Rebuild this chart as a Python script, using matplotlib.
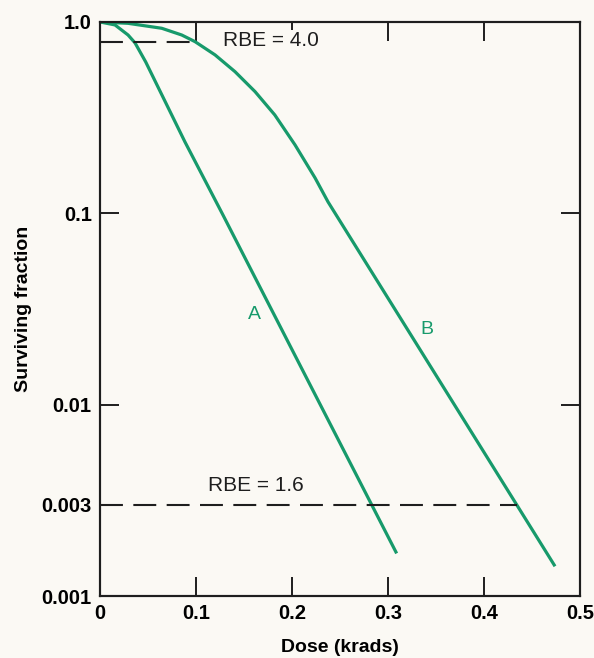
import matplotlib.pyplot as plt
from matplotlib.ticker import NullLocator

# survival curves (dose in krads, surviving fraction)
dose_a = [0, 0.0156, 0.0292, 0.0365, 0.0476, 0.0885, 0.128, 0.200, 0.309]
surv_a = [1.0, 0.965, 0.855, 0.777, 0.618, 0.236, 0.0982, 0.0194, 0.00167]

dose_b = [0, 0.0292, 0.0643, 0.0851, 0.099, 0.1198, 0.1406, 0.1615, 0.182,
          0.2031, 0.224, 0.2375, 0.474]
surv_b = [1.0, 0.984, 0.927, 0.855, 0.789, 0.673, 0.550, 0.4325, 0.327,
          0.228, 0.1532, 0.1148, 0.00143]

# RBE reference lines: (surviving fraction, dose where the dashed line ends)
rbe_high = (0.787, 0.1)
rbe_low = (0.003, 0.434)

x_ticks = [0, 0.1, 0.2, 0.3, 0.4, 0.5]
x_labels = ['0', '0.1', '0.2', '0.3', '0.4', '0.5']
y_ticks = [1.0, 0.1, 0.01, 0.003, 0.001]
y_labels = ['1.0', '0.1', '0.01', '0.003', '0.001']

bg = '#fbf9f4'
green = '#179a6b'
ink = '#1e1e1e'

plt.rcParams['font.family'] = ['Liberation Sans', 'DejaVu Sans']

fig = plt.figure(figsize=(5.94, 6.58), dpi=100, facecolor=bg)
ax = fig.add_axes([0.1684, 0.0942, 0.808, 0.8724], facecolor=bg)

ax.plot(dose_a, surv_a, color=green, lw=2.3, solid_capstyle='butt')
ax.plot(dose_b, surv_b, color=green, lw=2.3, solid_capstyle='butt')

ax.plot([0, rbe_high[1]], [rbe_high[0], rbe_high[0]], color=ink, lw=1.5,
        dashes=(11, 5))
ax.plot([0, rbe_low[1]], [rbe_low[0], rbe_low[0]], color=ink, lw=1.5,
        dashes=(11, 5))

ax.text(0.178, 0.80, 'RBE = 4.0', fontsize=15, ha='center', va='center',
        color=ink, bbox=dict(facecolor=bg, edgecolor='none', pad=1))
ax.text(0.1625, 0.0038, 'RBE = 1.6', fontsize=15, ha='center', va='center',
        color=ink)
ax.text(0.161, 0.0295, 'A', fontsize=14, ha='center', va='center', color=green)
ax.text(0.341, 0.0246, 'B', fontsize=14, ha='center', va='center', color=green)

ax.set_yscale('log')
ax.set_xlim(0, 0.5)
ax.set_ylim(0.001, 1.0)
ax.yaxis.set_minor_locator(NullLocator())
ax.set_xticks(x_ticks)
ax.set_xticklabels(x_labels, fontsize=14.5, fontweight='bold')
ax.set_yticks(y_ticks)
ax.set_yticklabels(y_labels, fontsize=14.5, fontweight='bold')
ax.tick_params(axis='x', direction='in', length=14, width=1.4, top=True,
               color=ink, pad=6)
ax.tick_params(axis='y', direction='in', length=14, width=1.4, color=ink, pad=6)

# right side only carries ticks at 0.1 and 0.01
ax2 = ax.twinx()
ax2.set_yscale('log')
ax2.set_ylim(0.001, 1.0)
ax2.yaxis.set_minor_locator(NullLocator())
ax2.set_yticks([0.1, 0.01])
ax2.set_yticklabels([])
ax2.tick_params(axis='y', direction='in', length=14, width=1.4, color=ink)

for a in (ax, ax2):
    for s in a.spines.values():
        s.set_linewidth(1.5)
        s.set_color(ink)

ax.set_xlabel('Dose (krads)', fontsize=14, fontweight='bold', labelpad=11)
ax.set_ylabel('Surviving fraction', fontsize=14, fontweight='bold', labelpad=7)

fig.savefig('out.png', dpi=100, facecolor=bg)
